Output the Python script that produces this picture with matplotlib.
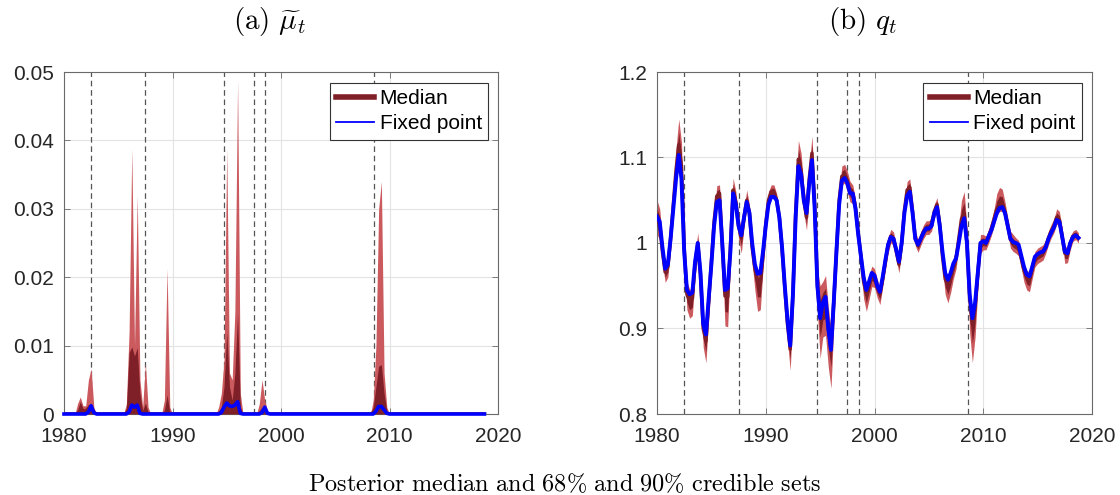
import numpy as np
import matplotlib
matplotlib.use("Agg")
import matplotlib.pyplot as plt
from matplotlib.lines import Line2D

plt.rcParams["font.family"] = ["Liberation Sans", "DejaVu Sans"]
plt.rcParams["mathtext.fontset"] = "cm"

# quarterly sample, 1980Q1 .. 2018Q4
years = np.arange(1980, 2019, 0.25)

# crisis dates (dashed markers)
crisis_dates = [1982.5, 1987.5, 1994.75, 1997.5, 1998.55, 2008.6]

# ---- panel (a): mu tilde ----
mu_hi90 = [
    0, 0, 0, 0, 0, .0015, .0025, .0012,
    .0012, .0050, .0066, .0010, 0, 0, 0, 0,
    0, 0, 0, 0, 0, 0, 0, .0015,
    .0120, .0388, .0100, .0320, .0050, .0010, .0074, .0010,
    0, 0, 0, 0, 0, .0020, .0213, .0010,
    0, 0, 0, 0, 0, 0, 0, 0,
    0, 0, 0, 0, 0, 0, 0, 0,
    0, .0010, .0030, .0080, .0388, .0060, .0050, .0150,
    .0488, .0030, 0, 0, 0, 0, 0, 0,
    .0015, .0050, .0020, .0005, 0, 0, 0, 0,
    0, 0, 0, 0, 0, 0, 0, 0,
    0, 0, 0, 0, 0, 0, 0, 0,
    0, 0, 0, 0, 0, 0, 0, 0,
    0, 0, 0, 0, 0, 0, 0, 0,
    0, 0, .0020, .0100, .0300, .0340, .0060, .0010,
    0, 0, 0, 0, 0, 0, 0, 0,
    0, 0, 0, 0, 0, 0, 0, 0,
    0, 0, 0, 0, 0, 0, 0, 0,
    0, 0, 0, 0, 0, 0, 0, 0,
    0, 0, 0, 0,
]
mu_hi68 = [
    0, 0, 0, 0, 0, .0006, .0018, .0008,
    .0008, .0014, .0014, .0004, 0, 0, 0, 0,
    0, 0, 0, 0, 0, 0, 0, .0008,
    .0090, .0098, .0085, .0097, .0030, .0005, .0016, .0003,
    0, 0, 0, 0, 0, .0005, .0028, .0003,
    0, 0, 0, 0, 0, 0, 0, 0,
    0, 0, 0, 0, 0, 0, 0, 0,
    0, .0004, .0010, .0040, .0120, .0040, .0020, .0060,
    .0147, .0010, 0, 0, 0, 0, 0, 0,
    .0005, .0010, .0008, .0002, 0, 0, 0, 0,
    0, 0, 0, 0, 0, 0, 0, 0,
    0, 0, 0, 0, 0, 0, 0, 0,
    0, 0, 0, 0, 0, 0, 0, 0,
    0, 0, 0, 0, 0, 0, 0, 0,
    0, 0, .0010, .0040, .0070, .0072, .0030, .0005,
    0, 0, 0, 0, 0, 0, 0, 0,
    0, 0, 0, 0, 0, 0, 0, 0,
    0, 0, 0, 0, 0, 0, 0, 0,
    0, 0, 0, 0, 0, 0, 0, 0,
    0, 0, 0, 0,
]
mu_med = [
    0, 0, 0, 0, 0, 0, .0004, 0,
    .0003, .0008, .0008, .0002, 0, 0, 0, 0,
    0, 0, 0, 0, 0, 0, 0, 0,
    .0008, .0015, .0012, .0015, .0003, 0, .0003, 0,
    0, 0, 0, 0, 0, 0, .0004, 0,
    0, 0, 0, 0, 0, 0, 0, 0,
    0, 0, 0, 0, 0, 0, 0, 0,
    0, 0, .0003, .0010, .0018, .0012, .0010, .0014,
    .0020, .0002, 0, 0, 0, 0, 0, 0,
    0, .0003, .0006, 0, 0, 0, 0, 0,
    0, 0, 0, 0, 0, 0, 0, 0,
    0, 0, 0, 0, 0, 0, 0, 0,
    0, 0, 0, 0, 0, 0, 0, 0,
    0, 0, 0, 0, 0, 0, 0, 0,
    0, 0, .0002, .0008, .0012, .0012, .0004, 0,
    0, 0, 0, 0, 0, 0, 0, 0,
    0, 0, 0, 0, 0, 0, 0, 0,
    0, 0, 0, 0, 0, 0, 0, 0,
    0, 0, 0, 0, 0, 0, 0, 0,
    0, 0, 0, 0,
]
mu_fixed = [
    0, 0, 0, 0, 0, 0, 0, 0,
    0, .0003, .0012, .0002, 0, 0, 0, 0,
    0, 0, 0, 0, 0, 0, 0, 0,
    .0003, .0013, .0010, .0013, .0001, 0, 0, 0,
    0, 0, 0, 0, 0, 0, 0, 0,
    0, 0, 0, 0, 0, 0, 0, 0,
    0, 0, 0, 0, 0, 0, 0, 0,
    0, 0, .0002, .0010, .0016, .0012, .0011, .0013,
    .0018, .0001, 0, 0, 0, 0, 0, 0,
    0, .0002, .0010, .0001, 0, 0, 0, 0,
    0, 0, 0, 0, 0, 0, 0, 0,
    0, 0, 0, 0, 0, 0, 0, 0,
    0, 0, 0, 0, 0, 0, 0, 0,
    0, 0, 0, 0, 0, 0, 0, 0,
    0, 0, 0, .0004, .0011, .0011, .0006, .0001,
    0, 0, 0, 0, 0, 0, 0, 0,
    0, 0, 0, 0, 0, 0, 0, 0,
    0, 0, 0, 0, 0, 0, 0, 0,
    0, 0, 0, 0, 0, 0, 0, 0,
    0, 0, 0, 0,
]

# ---- panel (b): q ----
q_fixed = [
    1.031, 1.025, 0.995, 0.970, 0.975, 1.005, 1.040, 1.075,
    1.103, 1.075, 0.990, 0.945, 0.940, 0.942, 0.978, 1.000,
    0.965, 0.905, 0.893, 0.935, 0.975, 1.020, 1.048, 1.050,
    1.000, 0.945, 0.947, 0.990, 1.058, 1.045, 1.020, 1.009,
    1.030, 1.048, 1.035, 1.000, 0.975, 0.964, 0.965, 0.990,
    1.020, 1.045, 1.054, 1.054, 1.050, 1.030, 0.995, 0.950,
    0.910, 0.880, 0.940, 1.030, 1.090, 1.080, 1.050, 1.035,
    1.070, 1.097, 1.040, 0.950, 0.912, 0.930, 0.937, 0.900,
    0.875, 0.930, 0.990, 1.045, 1.073, 1.076, 1.070, 1.058,
    1.058, 1.040, 1.010, 0.985, 0.960, 0.945, 0.955, 0.965,
    0.962, 0.950, 0.943, 0.960, 0.980, 0.998, 1.007, 1.005,
    0.992, 0.978, 1.000, 1.035, 1.055, 1.060, 1.035, 1.005,
    0.998, 1.005, 1.012, 1.017, 1.017, 1.020, 1.035, 1.042,
    1.020, 0.990, 0.965, 0.957, 0.965, 0.976, 0.982, 1.000,
    1.020, 1.029, 1.000, 0.940, 0.912, 0.930, 0.965, 1.000,
    1.002, 1.000, 1.008, 1.015, 1.025, 1.035, 1.041, 1.042,
    1.035, 1.020, 1.005, 1.001, 1.000, 0.998, 0.985, 0.972,
    0.963, 0.961, 0.972, 0.984, 0.987, 0.989, 0.990, 0.995,
    1.005, 1.012, 1.018, 1.027, 1.025, 1.008, 0.990, 0.988,
    1.000, 1.007, 1.009, 1.006,
]
q_med = [
    1.030, 1.022, 0.990, 0.966, 0.972, 1.005, 1.045, 1.085,
    1.115, 1.090, 0.995, 0.940, 0.932, 0.935, 0.975, 1.000,
    0.962, 0.900, 0.885, 0.930, 0.978, 1.025, 1.055, 1.058,
    1.000, 0.938, 0.937, 0.995, 1.062, 1.048, 1.020, 1.006,
    1.030, 1.050, 1.035, 0.995, 0.970, 0.955, 0.952, 0.985,
    1.022, 1.050, 1.060, 1.060, 1.050, 1.030, 0.993, 0.948,
    0.905, 0.876, 0.940, 1.035, 1.098, 1.085, 1.050, 1.030,
    1.075, 1.105, 1.045, 0.950, 0.915, 0.930, 0.932, 0.900,
    0.880, 0.930, 0.990, 1.050, 1.078, 1.080, 1.072, 1.060,
    1.058, 1.042, 1.012, 0.985, 0.955, 0.940, 0.952, 0.963,
    0.960, 0.948, 0.940, 0.958, 0.978, 0.998, 1.008, 1.005,
    0.990, 0.975, 1.000, 1.038, 1.062, 1.065, 1.037, 1.005,
    0.997, 1.005, 1.013, 1.018, 1.018, 1.022, 1.037, 1.045,
    1.022, 0.985, 0.958, 0.950, 0.960, 0.972, 0.982, 1.005,
    1.028, 1.035, 1.000, 0.935, 0.905, 0.925, 0.965, 1.000,
    1.002, 1.000, 1.008, 1.017, 1.028, 1.040, 1.045, 1.045,
    1.036, 1.020, 1.004, 1.000, 0.998, 0.995, 0.982, 0.968,
    0.960, 0.958, 0.970, 0.982, 0.986, 0.988, 0.990, 0.996,
    1.006, 1.014, 1.020, 1.030, 1.027, 1.008, 0.988, 0.987,
    1.000, 1.008, 1.010, 1.006,
]
# distances of the credible bounds from the median, in thousandths
q_up90 = [
    20, 18, 14, 12, 12, 14, 18, 25, 30, 28, 18, 15, 14, 12, 12, 12,
    12, 12, 12, 12, 12, 12, 12, 10, 10, 12, 12, 14, 14, 12, 12, 10,
    10, 12, 10, 10, 10, 10, 10, 10, 10, 10, 8, 8, 8, 8, 10, 10,
    10, 12, 14, 18, 22, 20, 16, 14, 16, 20, 18, 20, 35, 25, 30, 25,
    20, 25, 18, 12, 12, 12, 12, 12, 10, 10, 10, 10, 12, 12, 10, 10,
    10, 10, 8, 8, 8, 8, 8, 8, 8, 8, 8, 8, 10, 10, 8, 8,
    8, 8, 8, 8, 8, 8, 8, 8, 8, 8, 10, 10, 10, 10, 12, 15,
    22, 25, 18, 15, 14, 14, 14, 10, 8, 8, 8, 10, 12, 18, 20, 18,
    12, 10, 10, 10, 8, 8, 8, 8, 8, 8, 8, 8, 8, 8, 8, 8,
    8, 8, 8, 10, 10, 10, 8, 8, 8, 6, 6, 6,
]
q_dn90 = [
    20, 18, 14, 12, 12, 12, 12, 12, 15, 15, 15, 18, 20, 20, 15, 12,
    15, 22, 25, 18, 12, 10, 10, 10, 15, 35, 35, 18, 12, 12, 15, 18,
    12, 10, 12, 18, 25, 35, 30, 15, 10, 10, 8, 8, 8, 10, 12, 15,
    20, 25, 20, 12, 10, 12, 15, 15, 12, 12, 15, 30, 50, 40, 40, 45,
    50, 30, 20, 12, 10, 10, 12, 12, 12, 12, 14, 16, 20, 20, 18, 14,
    12, 12, 12, 10, 10, 10, 8, 8, 10, 10, 10, 8, 8, 8, 8, 8,
    8, 8, 8, 8, 8, 8, 8, 10, 12, 14, 18, 20, 18, 14, 12, 10,
    10, 10, 20, 40, 45, 35, 20, 12, 10, 8, 8, 8, 8, 8, 8, 8,
    8, 8, 10, 10, 10, 10, 12, 14, 15, 15, 12, 10, 10, 10, 10, 8,
    8, 8, 8, 8, 8, 8, 12, 10, 8, 6, 6, 6,
]
q_up68 = [
    10, 9, 7, 6, 6, 7, 9, 12, 14, 13, 9, 8, 7, 6, 6, 6,
    6, 6, 6, 6, 6, 6, 6, 5, 5, 6, 6, 7, 7, 6, 6, 5,
    5, 6, 5, 5, 5, 5, 5, 5, 5, 5, 4, 4, 4, 4, 5, 5,
    5, 6, 7, 9, 11, 10, 8, 7, 8, 10, 9, 10, 18, 12, 15, 12,
    10, 12, 9, 6, 6, 6, 6, 6, 5, 5, 5, 5, 6, 6, 5, 5,
    5, 5, 4, 4, 4, 4, 4, 4, 4, 4, 4, 4, 5, 5, 4, 4,
    4, 4, 4, 4, 4, 4, 4, 4, 4, 4, 5, 5, 5, 5, 6, 8,
    11, 12, 9, 8, 7, 7, 7, 5, 4, 4, 4, 5, 6, 9, 10, 9,
    6, 5, 5, 5, 4, 4, 4, 4, 4, 4, 4, 4, 4, 4, 4, 4,
    4, 4, 4, 5, 5, 5, 4, 4, 4, 3, 3, 3,
]
q_dn68 = [
    10, 9, 7, 6, 6, 6, 6, 6, 8, 8, 8, 9, 10, 10, 8, 6,
    8, 11, 12, 9, 6, 5, 5, 5, 8, 18, 18, 9, 6, 6, 8, 9,
    6, 5, 6, 9, 12, 18, 15, 8, 5, 5, 4, 4, 4, 5, 6, 8,
    10, 12, 10, 6, 5, 6, 8, 8, 6, 6, 8, 15, 25, 20, 20, 22,
    25, 15, 10, 6, 5, 5, 6, 6, 6, 6, 7, 8, 10, 10, 9, 7,
    6, 6, 6, 5, 5, 5, 4, 4, 5, 5, 5, 4, 4, 4, 4, 4,
    4, 4, 4, 4, 4, 4, 4, 5, 6, 7, 9, 10, 9, 7, 6, 5,
    5, 5, 10, 20, 22, 18, 10, 6, 5, 4, 4, 4, 4, 4, 4, 4,
    4, 4, 5, 5, 5, 5, 6, 7, 8, 8, 6, 5, 5, 5, 5, 4,
    4, 4, 4, 4, 4, 4, 6, 5, 4, 3, 3, 3,
]

light_red = "#cb5a5e"
dark_red = "#7f1f27"
blue = "#0000ff"
txt = "#262626"
frame = "#6a6a6a"


def style_axes(ax, yticks, ylabels, ylim):
    ax.set_xlim(1980, 2020)
    ax.set_ylim(*ylim)
    ax.set_xticks([1980, 1990, 2000, 2010, 2020])
    ax.set_yticks(yticks)
    ax.set_yticklabels(ylabels)
    ax.grid(True, color="#e3e3e3", linewidth=0.8, zorder=0)
    ax.set_axisbelow(True)
    for s in ax.spines.values():
        s.set_color(frame)
        s.set_linewidth(0.8)
    ax.tick_params(direction="in", length=4, width=0.6, color=frame,
                   top=True, right=True, labelsize=15, labelcolor=txt)
    ax.tick_params(axis="x", pad=9)
    ax.tick_params(axis="y", pad=7)
    for d in crisis_dates:
        ax.axvline(d, color="#555555", linestyle=(0, (4.5, 3)),
                   linewidth=0.9, zorder=1)


def add_legend(ax):
    handles = [Line2D([], [], color=dark_red, linewidth=4.0),
               Line2D([], [], color=blue, linewidth=1.3)]
    leg = ax.legend(handles, ["Median", "Fixed point"], loc="upper right",
                    bbox_to_anchor=(0.977, 0.968), borderaxespad=0,
                    fontsize=15, handlelength=1.85, handletextpad=0.25,
                    labelspacing=0.3, borderpad=0.3, fancybox=False,
                    framealpha=1, edgecolor="#333333")
    leg.get_frame().set_linewidth(0.8)
    for t in leg.get_texts():
        t.set_color("black")


fig = plt.figure(figsize=(11.2, 4.95), dpi=100)

# (a) mu tilde
ax1 = fig.add_axes([64 / 1120, 81 / 495, 434 / 1120, 342 / 495])
style_axes(ax1, [0, 0.01, 0.02, 0.03, 0.04, 0.05],
           ["0", "0.01", "0.02", "0.03", "0.04", "0.05"], (0, 0.05))
ax1.fill_between(years, 0, mu_hi90, color=light_red, linewidth=0, zorder=2)
ax1.fill_between(years, 0, mu_hi68, color=dark_red, linewidth=0, zorder=3)
ax1.plot(years, mu_med, color=dark_red, linewidth=2.5, zorder=4)
ax1.plot(years, mu_fixed, color=blue, linewidth=2.6, zorder=5, clip_on=False)
add_legend(ax1)

# (b) q
q_med_a = np.array(q_med)
q_lo90 = q_med_a - np.array(q_dn90) / 1000
q_hi90 = q_med_a + np.array(q_up90) / 1000
q_lo68 = q_med_a - np.array(q_dn68) / 1000
q_hi68 = q_med_a + np.array(q_up68) / 1000

ax2 = fig.add_axes([657 / 1120, 81 / 495, 435 / 1120, 342 / 495])
style_axes(ax2, [0.8, 0.9, 1.0, 1.1, 1.2],
           ["0.8", "0.9", "1", "1.1", "1.2"], (0.8, 1.2))
ax2.fill_between(years, q_lo90, q_hi90, color=light_red, linewidth=0, zorder=2)
ax2.fill_between(years, q_lo68, q_hi68, color=dark_red, linewidth=0, zorder=3)
ax2.plot(years, q_med, color=dark_red, linewidth=2.5, zorder=4)
ax2.plot(years, q_fixed, color=blue, linewidth=2.8, zorder=5)
add_legend(ax2)

fig.text(270 / 1120, 1 - 22 / 495, r"$\mathrm{(a)}\ \widetilde{\mu}_t$",
         fontsize=21, ha="center", va="center", color="black")
fig.text(863 / 1120, 1 - 22 / 495, r"$\mathrm{(b)}\ q_t$",
         fontsize=21, ha="center", va="center", color="black")
fig.text(565 / 1120, 1 - 484 / 495,
         r"$\mathrm{Posterior\ median\ and\ 68\%\ and\ 90\%\ credible\ sets}$",
         fontsize=17.5, ha="center", va="center", color="black")

fig.savefig("out.png", dpi=100, facecolor="white")
